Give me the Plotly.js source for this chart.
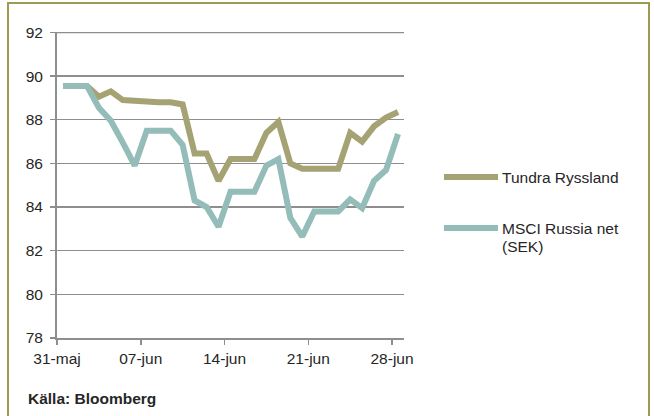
<!DOCTYPE html>
<html>
<head>
<meta charset="utf-8">
<script src="https://cdn.plot.ly/plotly-3.0.1.min.js"></script>
<style>
  html, body { margin: 0; padding: 0; background: #fff; }
  #wrap { position: relative; width: 654px; height: 416px; overflow: hidden; }
  #chart { width: 654px; height: 416px; }
  #frame { position: absolute; left: 7px; top: 2px; width: 643px; height: 430px;
           border: 2px solid #9c9a55; box-sizing: border-box; pointer-events: none; }
</style>
</head>
<body>
<div id="wrap">
  <div id="chart"></div>
  <div id="frame"></div>
</div>
<script>
// ---- data ----
const dates = [
  '2013-05-31','2013-06-01','2013-06-02','2013-06-03','2013-06-04','2013-06-05','2013-06-06',
  '2013-06-07','2013-06-08','2013-06-09','2013-06-10','2013-06-11','2013-06-12','2013-06-13',
  '2013-06-14','2013-06-15','2013-06-16','2013-06-17','2013-06-18','2013-06-19','2013-06-20',
  '2013-06-21','2013-06-22','2013-06-23','2013-06-24','2013-06-25','2013-06-26','2013-06-27',
  '2013-06-28'
];
const tundraRyssland = [89.55,89.55,89.55,89.05,89.3,88.9,88.85,88.8,88.8,88.8,88.7,86.45,86.45,85.2,
  86.2,86.2,86.2,87.4,87.9,86.0,85.75,85.75,85.75,85.75,87.4,87.0,87.7,88.1,88.35];
const msciRussia = [89.55,89.55,89.55,88.55,87.95,86.95,85.9,87.5,87.5,87.5,86.85,84.3,84.0,83.1,
  84.7,84.7,84.7,85.9,86.2,83.5,82.65,83.8,83.8,83.8,84.35,83.95,85.2,85.7,87.35];
const tickDates = ['2013-05-31','2013-06-07','2013-06-14','2013-06-21','2013-06-28'];
const tickLabels = ['31-maj','07-jun','14-jun','21-jun','28-jun'];
const seriesNames = ['Tundra Ryssland', 'MSCI Russia net', '(SEK)'];
const yTicks = [78,80,82,84,86,88,90,92];
const sourceText = 'Källa: Bloomberg';

// points sit in the middle of each day; ticks on day boundaries
const noon = d => d + ' 12:00';
const xs = dates.map(noon);
const shiftDay = (d, h) => { const t = new Date(d + 'T00:00:00Z'); t.setUTCHours(t.getUTCHours() + h);
  return t.toISOString().slice(0,19).replace('T',' '); };
const xRange = [dates[0] + ' 00:00', shiftDay(dates[dates.length-1], 24)];
const tickVals = tickDates.map(d => d + ' 00:00');

const olive = '#a5a273';
const teal = '#94bdb9';
const gridCol = '#8e8e8e';
const textCol = '#262626';
const FONT = 'Liberation Sans, Arial, sans-serif';

// layout geometry
const M = {l: 57, r: 250, t: 32, b: 78};
const W = 654, H = 416;
const pw = W - M.l - M.r, ph = H - M.t - M.b;
const px = x => (x - M.l) / pw;
const py = y => (H - M.b - y) / ph;

const traces = [
  {x: xs, y: tundraRyssland, type: 'scatter', mode: 'lines', name: seriesNames[0],
   line: {color: olive, width: 6}, hoverinfo: 'none'},
  {x: xs, y: msciRussia, type: 'scatter', mode: 'lines', name: seriesNames[1],
   line: {color: teal, width: 6}, hoverinfo: 'none'}
];

const layout = {
  width: W, height: H,
  margin: M,
  paper_bgcolor: '#ffffff', plot_bgcolor: '#ffffff',
  showlegend: false,
  font: {family: FONT, size: 15.5, color: textCol},
  xaxis: {
    type: 'date', range: xRange, tickvals: tickVals, ticktext: tickLabels,
    showgrid: false, zeroline: false,
    showline: true, linecolor: gridCol, linewidth: 2,
    ticks: 'outside', ticklen: 5, tickcolor: gridCol, tickwidth: 1.5,
    tickfont: {family: FONT, size: 15.5, color: textCol}, fixedrange: true
  },
  yaxis: {
    range: [78, 92.02], tickvals: yTicks, ticktext: yTicks.map(String),
    showgrid: true, gridcolor: gridCol, gridwidth: 1.5, zeroline: false,
    showline: true, linecolor: gridCol, linewidth: 2,
    ticks: 'outside', ticklen: 5, tickcolor: gridCol, tickwidth: 1.5,
    ticklabelstandoff: 4,
    tickfont: {family: FONT, size: 15.5, color: textCol}, fixedrange: true
  },
  shapes: [
    {type: 'line', xref: 'paper', yref: 'y', x0: 0, x1: 1, y0: yTicks[yTicks.length-1], y1: yTicks[yTicks.length-1],
     line: {color: gridCol, width: 1.5}, layer: 'below'},
    {type: 'line', xref: 'paper', yref: 'paper', x0: px(444), x1: px(498), y0: py(177), y1: py(177),
     line: {color: olive, width: 6}},
    {type: 'line', xref: 'paper', yref: 'paper', x0: px(444), x1: px(498), y0: py(228), y1: py(228),
     line: {color: teal, width: 6}}
  ],
  annotations: [
    {xref: 'paper', yref: 'paper', x: px(500), y: py(177), xanchor: 'left', yanchor: 'middle',
     text: seriesNames[0], showarrow: false, align: 'left', font: {size: 15.5, color: textCol}},
    {xref: 'paper', yref: 'paper', x: px(500), y: py(229), xanchor: 'left', yanchor: 'middle',
     text: seriesNames[1], showarrow: false, align: 'left', font: {size: 15.5, color: textCol}},
    {xref: 'paper', yref: 'paper', x: px(500), y: py(247), xanchor: 'left', yanchor: 'middle',
     text: seriesNames[2], showarrow: false, align: 'left', font: {size: 15.5, color: textCol}},
    {xref: 'paper', yref: 'paper', x: px(26), y: py(398), xanchor: 'left', yanchor: 'middle',
     text: '<b>' + sourceText + '</b>', showarrow: false, align: 'left', font: {size: 15.5, color: textCol}}
  ]
};

Plotly.newPlot('chart', traces, layout, {staticPlot: true, displayModeBar: false});
</script>
</body>
</html>
